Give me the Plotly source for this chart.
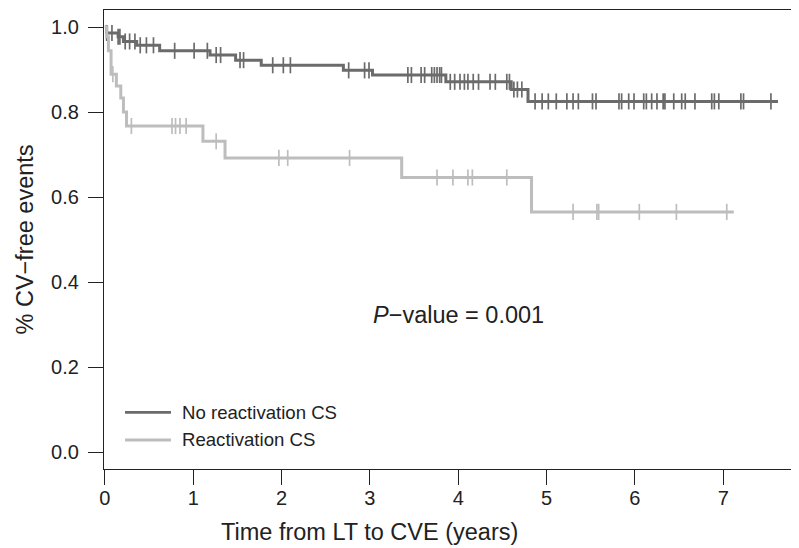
import numpy as np
import plotly.graph_objects as go

# ---------------- data ----------------
# No reactivation CS (dark curve): step times and survival levels
no_times = [0.0, 0.02, 0.15, 0.21, 0.36, 0.62, 1.19, 1.48, 1.77, 2.70, 3.03, 3.86, 4.60, 4.79]
no_surv = [1.0, 0.986, 0.977, 0.966, 0.957, 0.944, 0.934, 0.922, 0.910, 0.898, 0.887, 0.871, 0.853, 0.825]
no_end = 7.62
no_censor = [0.02, 0.08, 0.15, 0.17, 0.23, 0.28, 0.34, 0.40, 0.47, 0.55, 0.79, 1.01, 1.16, 1.26,
             1.31, 1.53, 1.57, 1.90, 2.02, 2.10, 2.76, 2.94, 2.99, 3.43, 3.47, 3.58, 3.62, 3.70,
             3.73, 3.76, 3.79, 3.81, 3.91, 3.96, 4.02, 4.07, 4.11, 4.17, 4.23, 4.36, 4.42, 4.55,
             4.58, 4.63, 4.67, 4.72, 4.87, 4.95, 5.02, 5.11, 5.23, 5.30, 5.36, 5.52, 5.56, 5.82,
             5.85, 5.93, 5.99, 6.10, 6.13, 6.19, 6.25, 6.32, 6.34, 6.44, 6.53, 6.57, 6.68, 6.87,
             6.90, 6.95, 7.20, 7.23, 7.54]

# Reactivation CS (light curve)
re_times = [0.0, 0.02, 0.04, 0.07, 0.13, 0.18, 0.21, 0.245, 1.11, 1.36, 3.36, 4.83]
re_surv = [1.0, 0.977, 0.944, 0.889, 0.861, 0.833, 0.800, 0.767, 0.731, 0.692, 0.646, 0.565]
re_end = 7.12
re_censor = [0.09, 0.30, 0.76, 0.80, 0.85, 0.92, 1.26, 1.97, 2.07, 2.77, 3.76, 3.94, 4.11, 4.16,
             4.55, 5.30, 5.57, 5.59, 6.05, 6.47, 7.04]

x_ticks = [0, 1, 2, 3, 4, 5, 6, 7]
y_ticks = [0.0, 0.2, 0.4, 0.6, 0.8, 1.0]
y_tick_labels = ["0.0", "0.2", "0.4", "0.6", "0.8", "1.0"]

series_names = ["No reactivation CS", "Reactivation CS"]
p_text = "<i>P</i>\u2212value = 0.001"

DARK = "#6b6b6b"
LIGHT = "#bdbdbd"
FONT = "Liberation Sans, Arial, sans-serif"


def step_at(times, levels, t):
    times = np.asarray(times)
    levels = np.asarray(levels)
    idx = np.searchsorted(times, t, side="right") - 1
    return levels[idx]


fig = go.Figure()

for times, surv, end, cens, color, name in [
    (no_times, no_surv, no_end, no_censor, DARK, series_names[0]),
    (re_times, re_surv, re_end, re_censor, LIGHT, series_names[1]),
]:
    fig.add_trace(go.Scatter(
        x=list(times) + [end], y=list(surv) + [surv[-1]],
        mode="lines", line=dict(color=color, width=3, shape="hv"),
        name=name, showlegend=False, hoverinfo="skip"))
    fig.add_trace(go.Scatter(
        x=cens, y=step_at(times, surv, np.asarray(cens)),
        mode="markers",
        marker=dict(symbol="line-ns", size=11.5, color=color,
                    line=dict(color=color, width=1.7)),
        showlegend=False, hoverinfo="skip"))

# manual legend (key lines + labels)
leg_y = [0.1235, 0.0632]
for yy, color, name in zip(leg_y, [DARK, LIGHT], series_names):
    fig.add_shape(type="line", xref="paper", yref="paper",
                  x0=0.0305, x1=0.0972, y0=yy, y1=yy,
                  line=dict(color=color, width=2.8))
    fig.add_annotation(xref="paper", yref="paper", x=0.110, y=yy,
                       xanchor="left", yanchor="middle", showarrow=False,
                       text=name, font=dict(size=18.6, color="#222", family=FONT))

fig.add_annotation(xref="x", yref="y", x=4.0, y=0.323, showarrow=False,
                   xanchor="center", yanchor="middle", text=p_text,
                   font=dict(size=23.5, color="#222", family=FONT))

# axis titles
fig.add_annotation(xref="paper", yref="paper", x=0.385, y=-0.137,
                   xanchor="center", yanchor="middle", showarrow=False,
                   text="Time from LT to CVE (years)",
                   font=dict(size=23.5, color="#222", family=FONT))
fig.add_annotation(xref="paper", yref="paper", x=-0.1147, y=0.5,
                   xanchor="center", yanchor="middle", showarrow=False,
                   textangle=-90, text="% CV\u2212free events",
                   font=dict(size=23.5, color="#222", family=FONT))

axis_common = dict(showgrid=False, zeroline=False, showline=True, mirror=True,
                   linecolor="#222", linewidth=1.3, ticks="outside", ticklen=15,
                   tickwidth=1.3, tickcolor="#222",
                   tickfont=dict(size=20, color="#222", family=FONT))

# page body has an 8px default margin, so the figure is sized to fill the
# remaining 791x540 area of the 799x548 window
fig.update_layout(
    width=791, height=540,
    margin=dict(l=96, r=6, t=2, b=79),
    paper_bgcolor="white", plot_bgcolor="white",
    xaxis=dict(range=[-0.01, 7.79], tickvals=x_ticks, ticklabelstandoff=-4, **axis_common),
    yaxis=dict(range=[-0.04, 1.04], tickvals=y_ticks, ticktext=y_tick_labels,
               ticklabelstandoff=5, **axis_common),
    font=dict(family=FONT),
)

fig.write_html("out.html")
